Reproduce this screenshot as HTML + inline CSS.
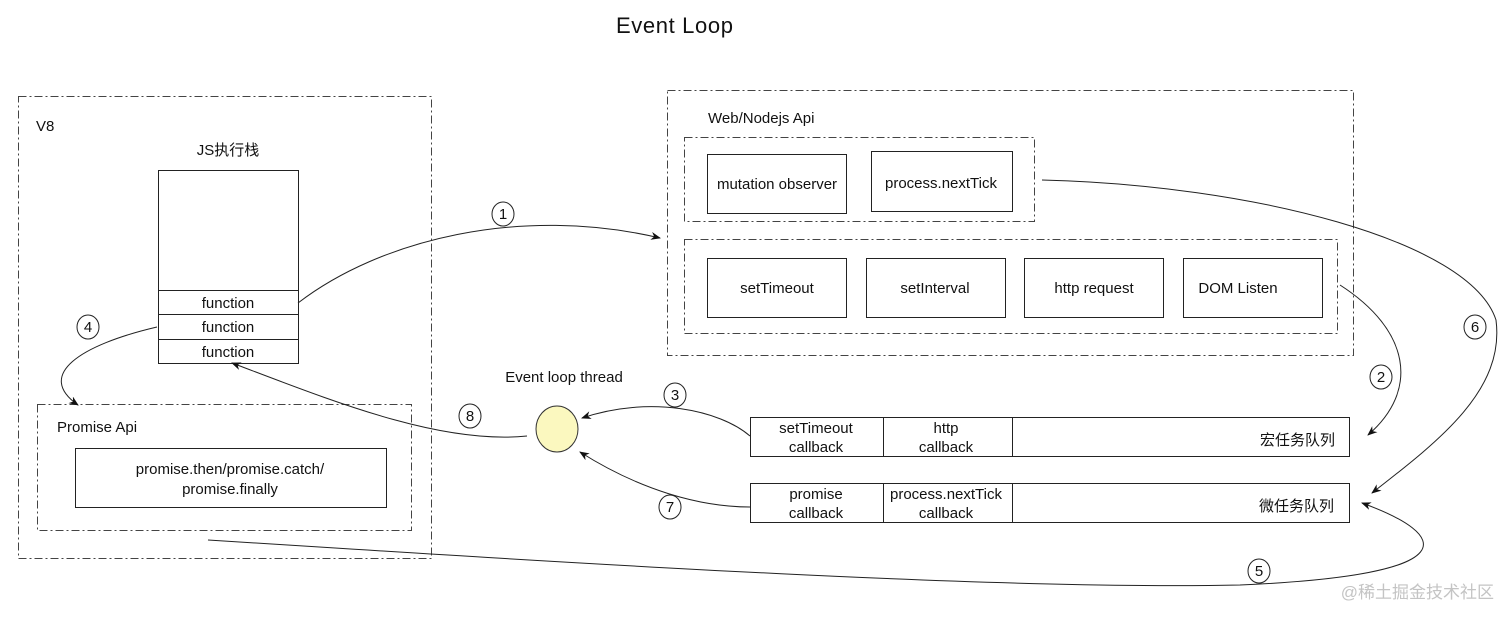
<!DOCTYPE html>
<html><head><meta charset="utf-8"><style>
html,body{margin:0;padding:0;background:#fff;}
svg{display:block;}
text{font-family:"Liberation Sans","Noto Sans CJK SC",sans-serif;fill:#111;}
</style></head><body>
<svg width="1512" height="620" viewBox="0 0 1512 620" xmlns="http://www.w3.org/2000/svg">
<defs>
<marker id="a" markerWidth="10" markerHeight="8" refX="9" refY="4" orient="auto" markerUnits="userSpaceOnUse">
<path d="M0,0 L10,4 L0,8 L3,4 z" fill="#111"/></marker>
</defs>
<text x="616" y="33" font-size="22" textLength="117" lengthAdjust="spacing">Event  Loop</text>
<g fill="none" stroke="#444" stroke-width="1" stroke-dasharray="8,3,2,3">
<rect x="18.5" y="96.5" width="413" height="462"/>
<rect x="37.5" y="404.5" width="374" height="126"/>
<rect x="667.5" y="90.5" width="686" height="265"/>
<rect x="684.5" y="137.5" width="350" height="84"/>
<rect x="684.5" y="239.5" width="653" height="94"/>
</g>
<g font-size="15">
<text x="36" y="131">V8</text>
<text x="228" y="155" text-anchor="middle">JS执行栈</text>
<text x="57" y="432">Promise Api</text>
<text x="708" y="123">Web/Nodejs Api</text>
<text x="564" y="382" text-anchor="middle">Event loop thread</text>
</g>
<g fill="#fff" stroke="#222" stroke-width="1">
<rect x="158.5" y="170.5" width="140" height="193"/>
<line x1="158" y1="290.5" x2="298" y2="290.5"/>
<line x1="158" y1="314.5" x2="298" y2="314.5"/>
<line x1="158" y1="339.5" x2="298" y2="339.5"/>
<rect x="75.5" y="448.5" width="311" height="59"/>
<rect x="707.5" y="154.5" width="139" height="59"/>
<rect x="871.5" y="151.5" width="141" height="60"/>
<rect x="707.5" y="258.5" width="139" height="59"/>
<rect x="866.5" y="258.5" width="139" height="59"/>
<rect x="1024.5" y="258.5" width="139" height="59"/>
<rect x="1183.5" y="258.5" width="139" height="59"/>
<rect x="750.5" y="417.5" width="599" height="39"/>
<line x1="883.5" y1="417" x2="883.5" y2="456"/>
<line x1="1012.5" y1="417" x2="1012.5" y2="456"/>
<rect x="750.5" y="483.5" width="599" height="39"/>
<line x1="883.5" y1="483" x2="883.5" y2="522"/>
<line x1="1012.5" y1="483" x2="1012.5" y2="522"/>
</g>
<g font-size="15" text-anchor="middle">
<text x="228" y="308">function</text>
<text x="228" y="332">function</text>
<text x="228" y="357">function</text>
<text x="230" y="474">promise.then/promise.catch/</text>
<text x="230" y="494">promise.finally</text>
<text x="777" y="189">mutation observer</text>
<text x="941" y="188">process.nextTick</text>
<text x="777" y="293">setTimeout</text>
<text x="935" y="293">setInterval</text>
<text x="1094" y="293">http request</text>
<text x="1238" y="293">DOM Listen</text>
<text x="816" y="433">setTimeout</text>
<text x="816" y="452">callback</text>
<text x="946" y="433">http</text>
<text x="946" y="452">callback</text>
<text x="816" y="499">promise</text>
<text x="816" y="518">callback</text>
<text x="946" y="499">process.nextTick</text>
<text x="946" y="518">callback</text>
</g>
<g font-size="15" text-anchor="end">
<text x="1335" y="445">宏任务队列</text>
<text x="1334" y="511">微任务队列</text>
</g>
<ellipse cx="557" cy="429" rx="21" ry="23" fill="#fbf8bf" stroke="#333" stroke-width="1"/>
<g fill="none" stroke="#222" stroke-width="1" marker-end="url(#a)">
<path d="M298,303 C380,240 520,205 660,238"/>
<path d="M1340,285 C1410,330 1420,390 1368,435"/>
<path d="M1042,180 C1250,185 1470,240 1496,320 C1505,390 1440,440 1372,493"/>
<path d="M208,540 C600,565 1000,590 1240,585 C1470,575 1450,535 1362,503"/>
<path d="M750,436 C720,410 650,395 582,418"/>
<path d="M750,507 C700,507 640,490 580,452"/>
<path d="M527,436 C440,445 330,400 232,363"/>
<path d="M157,327 C80,345 35,375 78,405"/>
</g>
<g fill="#fff" stroke="#222" stroke-width="1">
<ellipse cx="503" cy="214" rx="11" ry="12"/>
<ellipse cx="1381" cy="377" rx="11" ry="12"/>
<ellipse cx="675" cy="395" rx="11" ry="12"/>
<ellipse cx="88" cy="327" rx="11" ry="12"/>
<ellipse cx="1259" cy="571" rx="11" ry="12"/>
<ellipse cx="1475" cy="327" rx="11" ry="12"/>
<ellipse cx="670" cy="507" rx="11" ry="12"/>
<ellipse cx="470" cy="416" rx="11" ry="12"/>
</g>
<g font-size="15" text-anchor="middle">
<text x="503" y="219">1</text>
<text x="1381" y="382">2</text>
<text x="675" y="400">3</text>
<text x="88" y="332">4</text>
<text x="1259" y="576">5</text>
<text x="1475" y="332">6</text>
<text x="670" y="512">7</text>
<text x="470" y="421">8</text>
</g>
<text x="1494" y="598" font-size="17" text-anchor="end" style="fill:#c4c4c4">@稀土掘金技术社区</text>
</svg>
</body></html>
